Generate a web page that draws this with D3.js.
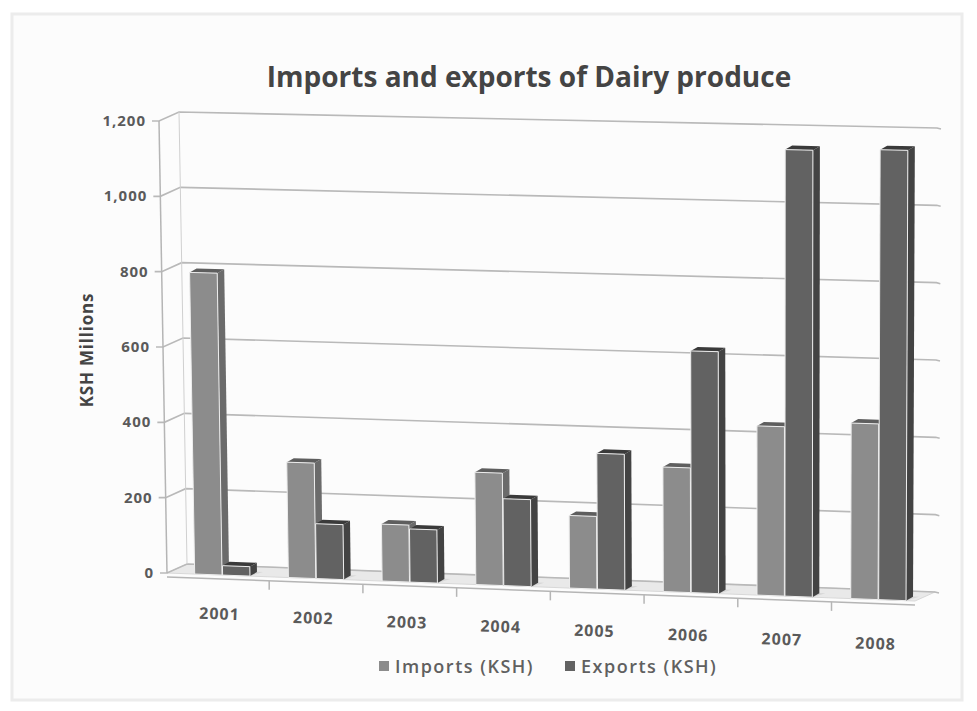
<!DOCTYPE html>
<html>
<head>
<meta charset="utf-8">
<script src="https://cdn.jsdelivr.net/npm/d3@7"></script>
<style>
  body { margin: 0; background: #fff; }
  svg { display: block; font-family: "Open Sans", sans-serif; }
</style>
</head>
<body>
<svg id="chart"></svg>
<script>
// data
var years = ["2001", "2002", "2003", "2004", "2005", "2006", "2007", "2008"];
var series = ["Imports (KSH)", "Exports (KSH)"];
var imports = [800, 305, 150, 295, 190, 325, 440, 455];
var exports = [25, 145, 140, 228, 355, 630, 1160, 1165];
var yTicks = [0, 200, 400, 600, 800, 1000, 1200];

var width = 977, height = 711;
var svg = d3.select("#chart").attr("width", width).attr("height", height);

// faint frame of the photographed sheet
svg.append("rect").attr("x", 12).attr("y", 14).attr("width", 950).attr("height", 686)
   .attr("fill", "#fcfcfc").attr("stroke", "#ececec").attr("stroke-width", 3);

// front plane corners (picture is slightly in perspective)
var BL = [167, 573], BR = [915, 601], TL = [159, 121], TR = [917, 137];
var wall = [20, -9];    // depth of back wall
var depth = [7, -4];    // depth of each bar

function lerp(a, b, t) { return [a[0] + (b[0] - a[0]) * t, a[1] + (b[1] - a[1]) * t]; }
function P(u, v) { return lerp(lerp(BL, BR, u), lerp(TL, TR, u), v); }
function add(p, d) { return [p[0] + d[0], p[1] + d[1]]; }

var x = d3.scaleBand().domain(years).range([0.037, 0.988]).paddingInner(0.41).paddingOuter(0);
var xs = d3.scaleBand().domain(series).range([0, x.bandwidth()]).paddingInner(0.02);
var y = d3.scaleLinear().domain([0, 1200]).range([0, 1]);

var line = d3.line();
var poly = function(pts) { return line(pts) + "Z"; };

// floor
svg.append("path")
   .attr("d", poly([P(0, 0), P(1, 0), add(P(1, 0), wall), add(P(0, 0), wall)]))
   .attr("fill", "#e9e9e9").attr("stroke", "#d8d8d8");

// back wall gridlines
var grid = svg.append("g");
yTicks.forEach(function(t) {
  var a = P(0, y(t)), b = P(1, y(t));
  grid.append("path")
      .attr("d", line([[a[0] - 7, a[1]], a, add(a, wall), add(b, wall), [b[0] + wall[0] + 4, b[1] + wall[1] + 1]]))
      .attr("fill", "none").attr("stroke", "#b9b9b9").attr("stroke-width", 1.6);
  grid.append("text")
      .attr("x", a[0] - 13).attr("y", a[1] + 5)
      .attr("text-anchor", "end").attr("font-size", 15).attr("font-weight", 700)
      .attr("letter-spacing", 1)
      .attr("fill", "#5a5a5a")
      .text(d3.format(",")(t));
});
// left axis line
svg.append("path").attr("d", line([P(0, 0), P(0, 1)]))
   .attr("stroke", "#b5b5b5").attr("stroke-width", 1.5).attr("fill", "none");
svg.append("path").attr("d", line([add(P(0, 0), wall), add(P(0, 1), wall)]))
   .attr("stroke", "#d0d0d0").attr("stroke-width", 1).attr("fill", "none");

// x axis line with ticks between categories
var xa = svg.append("g");
var off = [0, 4];
xa.append("path").attr("d", line([add(P(0, 0), off), add(P(1, 0), off)]))
  .attr("stroke", "#b5b5b5").attr("stroke-width", 1.5).attr("fill", "none");
years.forEach(function(yr, i) {
  var u = x(yr) - x.step() * x.paddingInner() / 2;
  if (i > 0) {
    var p = add(P(u, 0), off);
    xa.append("path").attr("d", line([p, [p[0], p[1] + 9]]))
      .attr("stroke", "#b5b5b5").attr("stroke-width", 1.5);
  }
  var uc = x(yr) + x.bandwidth() / 2;
  var c = P(uc, 0);
  var ty = c[1] + 44 + uc * 6;
  xa.append("text")
    .attr("x", c[0] - 3).attr("y", ty)
    .attr("text-anchor", "middle").attr("font-size", 16).attr("font-weight", 700)
    .attr("letter-spacing", 1)
    .attr("fill", "#5a5a5a")
    .attr("transform", "rotate(2," + c[0] + "," + ty + ")")
    .text(yr);
});

// bars
var colors = {
  "Imports (KSH)": { front: "#8c8c8c", side: "#6b6b6b", top: "#5e5e5e" },
  "Exports (KSH)": { front: "#626262", side: "#434343", top: "#3a3a3a" }
};
var rows = [];
years.forEach(function(yr, i) {
  rows.push({ year: yr, s: series[0], v: imports[i] });
  rows.push({ year: yr, s: series[1], v: exports[i] });
});
var bars = svg.append("g").selectAll("g").data(rows).enter().append("g");
bars.each(function(d) {
  var g = d3.select(this);
  var u0 = x(d.year) + xs(d.s), u1 = u0 + xs.bandwidth();
  var v1 = y(d.v);
  var fbl = P(u0, 0), fbr = P(u1, 0), ftl = P(u0, v1), ftr = P(u1, v1);
  var c = colors[d.s];
  // shadow on the floor
  g.append("path").attr("d", poly([fbl, fbr, add(add(fbr, depth), [6, 0]), add(add(fbl, depth), [6, 0])]))
   .attr("fill", "#cfcfcf").attr("opacity", 0.7);
  g.append("path").attr("d", poly([fbr, ftr, add(ftr, depth), add(fbr, depth)]))
   .attr("fill", c.side);
  g.append("path").attr("d", poly([ftl, ftr, add(ftr, depth), add(ftl, depth)]))
   .attr("fill", c.top);
  g.append("path").attr("d", poly([fbl, fbr, ftr, ftl]))
   .attr("fill", c.front).attr("stroke", "#ededed").attr("stroke-width", 1);
});

// title
svg.append("text").attr("x", 529).attr("y", 87)
   .attr("text-anchor", "middle").attr("font-size", 28).attr("font-weight", 700)
   .attr("fill", "#444").text("Imports and exports of Dairy produce");

// y axis title
svg.append("text")
   .attr("transform", "translate(93,350) rotate(-90)")
   .attr("text-anchor", "middle").attr("font-size", 17).attr("font-weight", 700)
   .attr("letter-spacing", 0.8)
   .attr("fill", "#444").text("KSH Millions");

// legend
var legend = svg.append("g").attr("transform", "translate(0,673)");
var lx = [379, 565];
series.forEach(function(s, i) {
  legend.append("rect").attr("x", lx[i]).attr("y", -12).attr("width", 10).attr("height", 10)
        .attr("fill", colors[s].front);
  legend.append("text").attr("x", lx[i] + 16).attr("y", 0)
        .attr("font-size", 18).attr("font-weight", 600).attr("letter-spacing", 1.5)
        .attr("fill", "#606060").text(s);
});
</script>
</body>
</html>
